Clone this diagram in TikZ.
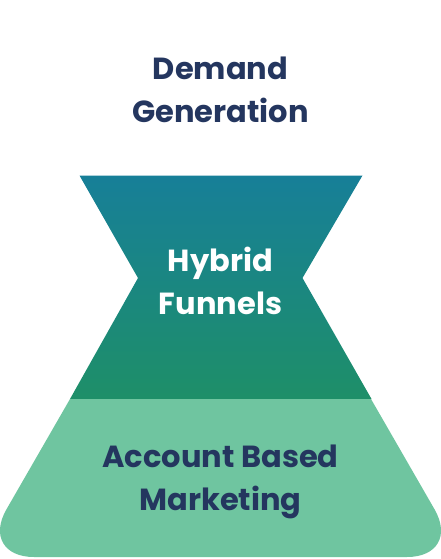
\documentclass[tikz,border=0pt]{standalone}
\usepackage{fontspec}
\setmainfont{Poppins}
\usepackage{tikz}

\definecolor{navy}{HTML}{24365F}
\definecolor{tealtop}{HTML}{177F98}
\definecolor{greenmid}{HTML}{1E8F68}
\definecolor{mint}{HTML}{6FC5A0}

\begin{document}
\begin{tikzpicture}[
  x=1pt, y=-1pt,
  label/.style={font=\fontsize{30.5}{42.5}\selectfont\bfseries, align=center,
                inner sep=0pt},
]
  \useasboundingbox (0,0) rectangle (440,559);

  % upper hourglass part
  \shade[top color=tealtop, bottom color=greenmid]
    (79.5,175.5) -- (362.5,175.5) -- (302.5,278) -- (371.5,399)
    -- (70,399) -- (138,278) -- cycle;

  % lower trapezoid
  \fill[mint] (70,399) -- (371,399)
    [rounded corners=55pt] -- (462,557) -- (-21,557) [sharp corners] -- cycle;

  \node[label, text=navy] (demand) at (220.5,90) {Demand\\Generation};
  \node[label, text=white] (hybrid) at (220.5,281) {Hybrid\\Funnels};
  \node[label, text=navy] (abm) at (220.5,482) {Account Based\\Marketing};
\end{tikzpicture}
\end{document}
